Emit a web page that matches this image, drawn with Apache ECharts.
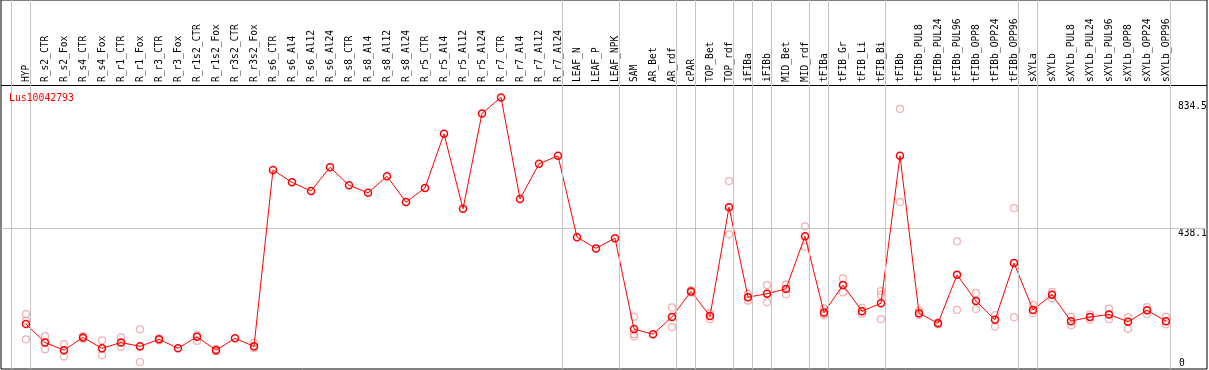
<!DOCTYPE html>
<html><head><meta charset="utf-8">
<script src="https://cdn.jsdelivr.net/npm/echarts@6/dist/echarts.min.js"></script>
<style>html,body{margin:0;padding:0;background:#fff}#c{width:1209px;height:370px}</style>
</head><body><div id="c"></div>
<script>
const chartTitle = 'Lus10042793';
const categories = ['HYP','R_s2_CTR','R_s2_Fox','R_s4_CTR','R_s4_Fox','R_r1_CTR','R_r1_Fox','R_r3_CTR','R_r3_Fox','R_r1s2_CTR','R_r1s2_Fox','R_r3s2_CTR','R_r3s2_Fox','R_s6_CTR','R_s6_Al4','R_s6_Al12','R_s6_Al24','R_s8_CTR','R_s8_Al4','R_s8_Al12','R_s8_Al24','R_r5_CTR','R_r5_Al4','R_r5_Al12','R_r5_Al24','R_r7_CTR','R_r7_Al4','R_r7_Al12','R_r7_Al24','LEAF_N','LEAF_P','LEAF_NPK','SAM','AR_Bet','AR_rdf','cPAR','TOP_Bet','TOP_rdf','iFIBa','iFIBb','MID_Bet','MID_rdf','tFIBa','tFIB_Gr','tFIB_Li','tFIB_Bi','tFIBb','tFIBb_PUL8','tFIBb_PUL24','tFIBb_PUL96','tFIBb_OPP8','tFIBb_OPP24','tFIBb_OPP96','sXYLa','sXYLb','sXYLb_PUL8','sXYLb_PUL24','sXYLb_PUL96','sXYLb_OPP8','sXYLb_OPP24','sXYLb_OPP96'];
const meanValues = [138,80,56,96,62,80,68,90,62,98,56,93,68,621,582,555,629,573,549,601,520,564,734,499,798,848,530,640,665,410,375,407,122,106,160,240,163,504,222,233,248,413,174,260,178,203,665,172,140,292,210,151,329,182,230,147,160,168,145,181,147];
const replicateValues = [[169,148,90],[100,80,59],[75,56,36],[100,96,92],[87,61,40],[96,80,67],[121,66,19],[93,90,87],[],[103,98,85],[60,56,52],[],[79,67,62],
[],[],[],[],[],[],[],[],[],[],[],[],[],[],[],[],[],[],[],
[161,106,99],[],[190,160,128],[244,240,236],[172,163,153],[586,504,419],[232,222,211],[260,233,206],[262,248,231],[444,413,380],[187,170,166],[281,260,237],[189,178,170],[241,229,153],[812,520],[180,172,166],[143,140,137],[397,292,182],[235,210,185],[166,151,130],[501,329,159],[198,182,172],[239,230,219],[161,147,134],[168,160,151],[186,168,153],[159,145,123],[191,181,169],[161,147,137]];
const groupEnds = [-1,0,28,31,34,35,37,38,39,41,42,45,52,53,60];
const refLineValue = 438.1;
const yTickValues = [438.1, 834.5];
const yTickLabels = ['438.1', '834.5'];
const yZeroValues = [0];
const yZeroLabels = ['0'];

const FONT = 'DejaVu Sans Mono';
const sepOffset = 0.23;
const yMin = -3, yMax = 887;
const xMin = -25 / 19, xMax = 1181 / 19;

const meanData = meanValues.map((v, i) => [i, v]);
const repData = [];
replicateValues.forEach((arr, i) => arr.forEach(v => repData.push([i, v])));

const sepLineStyle = {color: '#c4c4c4', width: 1, type: 'solid'};
const separatorMarks = groupEnds.map(k => ({xAxis: k + sepOffset}));

const chart = echarts.init(document.getElementById('c'), null, {renderer: 'canvas'});
const hiddenAxis = {axisLine: {show: false}, axisTick: {show: false}, splitLine: {show: false}, axisLabel: {show: false}};

chart.setOption({
  animation: false,
  backgroundColor: '#fff',
  title: {
    text: chartTitle, left: 9, top: 93, padding: 0,
    textStyle: {fontFamily: FONT, fontSize: 9.8, fontWeight: 'normal', color: '#ff0000'}
  },
  grid: [
    {left: 1, right: 2, top: 85, bottom: 1, show: false, containLabel: false, outerBoundsMode: 'none'},
    {left: 1, right: 2, top: 0, bottom: 1, show: true, borderColor: '#000', borderWidth: 1, containLabel: false, outerBoundsMode: 'none'}
  ],
  xAxis: [{
    gridIndex: 0, type: 'value', min: xMin, max: xMax, position: 'top',
    axisLine: {show: false}, axisTick: {show: false}, splitLine: {show: false},
    axisLabel: {
      customValues: categories.map((_, i) => i),
      formatter: v => categories[Math.round(v)],
      rotate: 90, margin: 3, fontFamily: FONT, fontSize: 9.6, color: '#000', hideOverlap: false
    }
  }, Object.assign({gridIndex: 1, type: 'value', min: xMin, max: xMax}, hiddenAxis)],
  yAxis: [{
    gridIndex: 0, type: 'value', min: yMin, max: yMax, position: 'right',
    axisLine: {show: false}, axisTick: {show: false}, splitLine: {show: false},
    axisLabel: {
      customValues: yTickValues,
      formatter: v => yTickLabels[yTickValues.indexOf(v)],
      inside: true, margin: 29, align: 'left', verticalAlign: 'top',
      fontFamily: FONT, fontSize: 9.6, color: '#000'
    }
  }, {
    gridIndex: 0, type: 'value', min: yMin, max: yMax, position: 'right',
    axisLine: {show: false}, axisTick: {show: false}, splitLine: {show: false},
    axisLabel: {
      customValues: yZeroValues,
      formatter: v => yZeroLabels[yZeroValues.indexOf(v)],
      inside: true, margin: 28, align: 'left', verticalAlign: 'bottom',
      fontFamily: FONT, fontSize: 9.6, color: '#000'
    }
  }, Object.assign({gridIndex: 1, type: 'value', min: 0, max: 1}, hiddenAxis)],
  series: [{
    type: 'scatter', xAxisIndex: 1, yAxisIndex: 2, data: [], silent: true, z: 1,
    markLine: {
      silent: true, symbol: ['none', 'none'], label: {show: false},
      lineStyle: sepLineStyle, emphasis: {disabled: true}, data: separatorMarks
    }
  }, {
    type: 'scatter', xAxisIndex: 0, yAxisIndex: 0, data: repData, z: 2, silent: true,
    symbol: 'circle', symbolSize: 7,
    itemStyle: {color: 'rgba(0,0,0,0)', borderColor: '#f09a9a', borderWidth: 1.2},
    markLine: {
      silent: true, symbol: ['none', 'none'], label: {show: false}, z: 1,
      lineStyle: sepLineStyle, emphasis: {disabled: true},
      data: [{yAxis: refLineValue}, {yAxis: yMax, lineStyle: {color: '#000', width: 1, type: 'solid'}}]
    }
  }, {
    type: 'line', xAxisIndex: 0, yAxisIndex: 0, data: meanData, z: 3, silent: true,
    symbol: 'circle', symbolSize: 7, showAllSymbol: true,
    itemStyle: {color: 'rgba(0,0,0,0)', borderColor: '#ff0000', borderWidth: 1.5},
    lineStyle: {color: '#ff0000', width: 1}
  }]
});
</script>
</body></html>
